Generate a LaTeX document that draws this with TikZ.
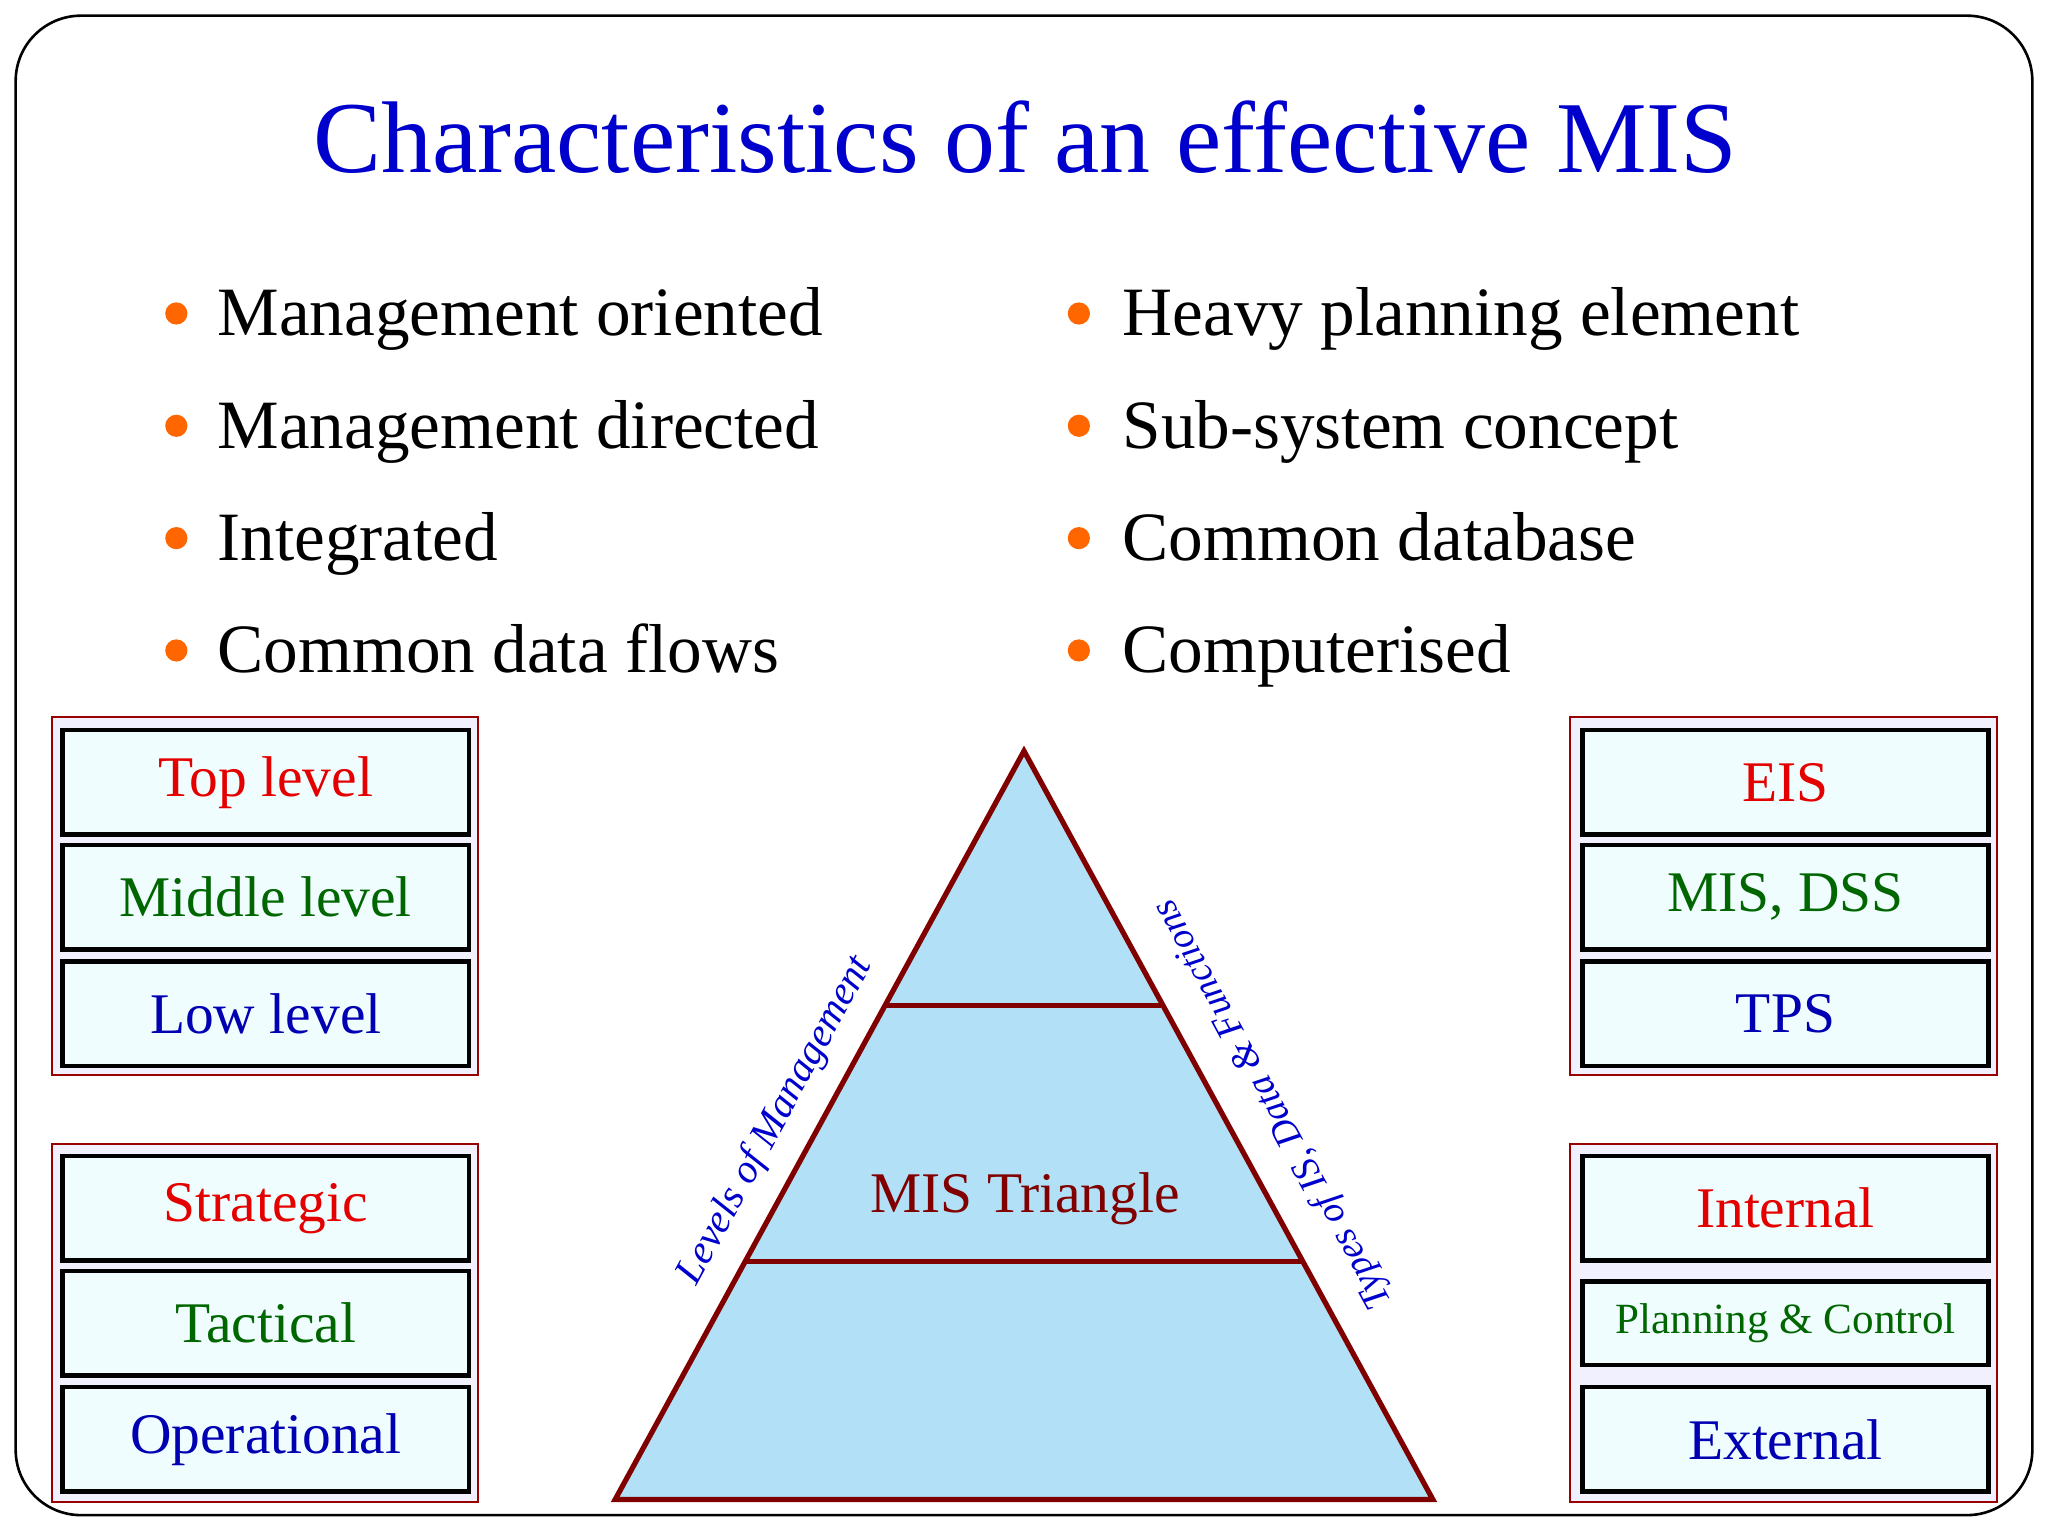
\documentclass[tikz,border=0pt]{standalone}
\usepackage{fontspec}
\setmainfont{Liberation Serif}
\begin{document}
\begin{tikzpicture}[x=1pt,y=-1pt,
  grp/.style={draw=red!60!black,line width=1.2pt,fill=blue!6},
  bx/.style={draw=black,line width=3.5pt,fill=blue!14!cyan!6,minimum width=311pt,inner sep=0pt,font=\fontsize{44}{48}\selectfont},
  bul/.style={anchor=base west,font=\fontsize{53}{56}\selectfont},
  dot/.style={circle,fill=orange!80!red,inner sep=0pt,minimum size=17pt},
  rd/.style={text=red!90!black},gn/.style={text=green!40!black},bl/.style={text=blue!70!black},
  tri/.style={draw=red!50!black,line width=4pt}]
\useasboundingbox (0,0) rectangle (1568,1176);
\draw[line width=2pt,rounded corners=50pt] (12,12) rectangle (1556,1160);
\node[text=blue!80!black,font=\fontsize{78}{84}\selectfont] (title) at (785,105) {Characteristics of an effective MIS};
\foreach \t/\y [count=\i] in {Management oriented/240,Management directed/326,Integrated/412,Common data flows/498}{
  \node[dot] (ld\i) at (135,\y) {};
  \node[bul] (lt\i) at (163,\y+17) {\t};}
\foreach \t/\y [count=\i] in {Heavy planning element/240,Sub-system concept/326,Common database/412,Computerised/498}{
  \node[dot] (rd\i) at (826,\y) {};
  \node[bul] (rt\i) at (856,\y+17) {\t};}
% groups
\draw[grp] (40,549) rectangle (366,823);
\draw[grp] (40,876) rectangle (366,1150);
\draw[grp] (1202,549) rectangle (1529,823);
\draw[grp] (1202,876) rectangle (1529,1150);
\node[bx,rd,minimum height=80pt] (a1) at (203.5,599) {Top level};
\node[bx,gn,minimum height=80pt] (a2) at (203.5,687) {Middle level};
\node[bx,bl,minimum height=80pt] (a3) at (203.5,776) {Low level};
\node[bx,rd,minimum height=80pt] (b1) at (203.5,925) {Strategic};
\node[bx,gn,minimum height=80pt] (b2) at (203.5,1013) {Tactical};
\node[bx,bl,minimum height=80pt] (b3) at (203.5,1102) {Operational};
\node[bx,rd,minimum height=80pt] (c1) at (1367,599) {EIS};
\node[bx,gn,minimum height=80pt] (c2) at (1367,687) {MIS, DSS};
\node[bx,bl,minimum height=80pt] (c3) at (1367,776) {TPS};
\node[bx,rd,minimum height=80pt] (d1) at (1367,925) {Internal};
\node[bx,gn,minimum height=64pt,font=\fontsize{33}{36}\selectfont] (d2) at (1367,1013) {Planning \& Control};
\node[bx,bl,minimum height=80pt] (d3) at (1367,1102) {External};
% triangle
\fill[cyan!30!blue!8!white] (784,575) -- (1097,1148) -- (471,1148) -- cycle;
\fill[cyan!45!white,opacity=0.6] (784,575) -- (1097,1148) -- (471,1148) -- cycle;
\draw[tri] (678,770) -- (889,770);
\draw[tri] (572,966) -- (997,966);
\draw[tri,line join=miter] (784,575) -- (1097,1148) -- (471,1148) -- cycle;
\node[text=red!50!black,font=\fontsize{44}{48}\selectfont] (mt) at (785,918) {MIS Triangle};
\node[text=blue!80!black,font=\itshape\fontsize{31}{34}\selectfont,rotate=61.4] (lm) at (594,858) {Levels of Management};
\node[text=blue!80!black,font=\itshape\fontsize{29}{32}\selectfont,rotate=118.6] (ty) at (975,845) {Types of IS, Data \& Functions};
\end{tikzpicture}
\end{document}
